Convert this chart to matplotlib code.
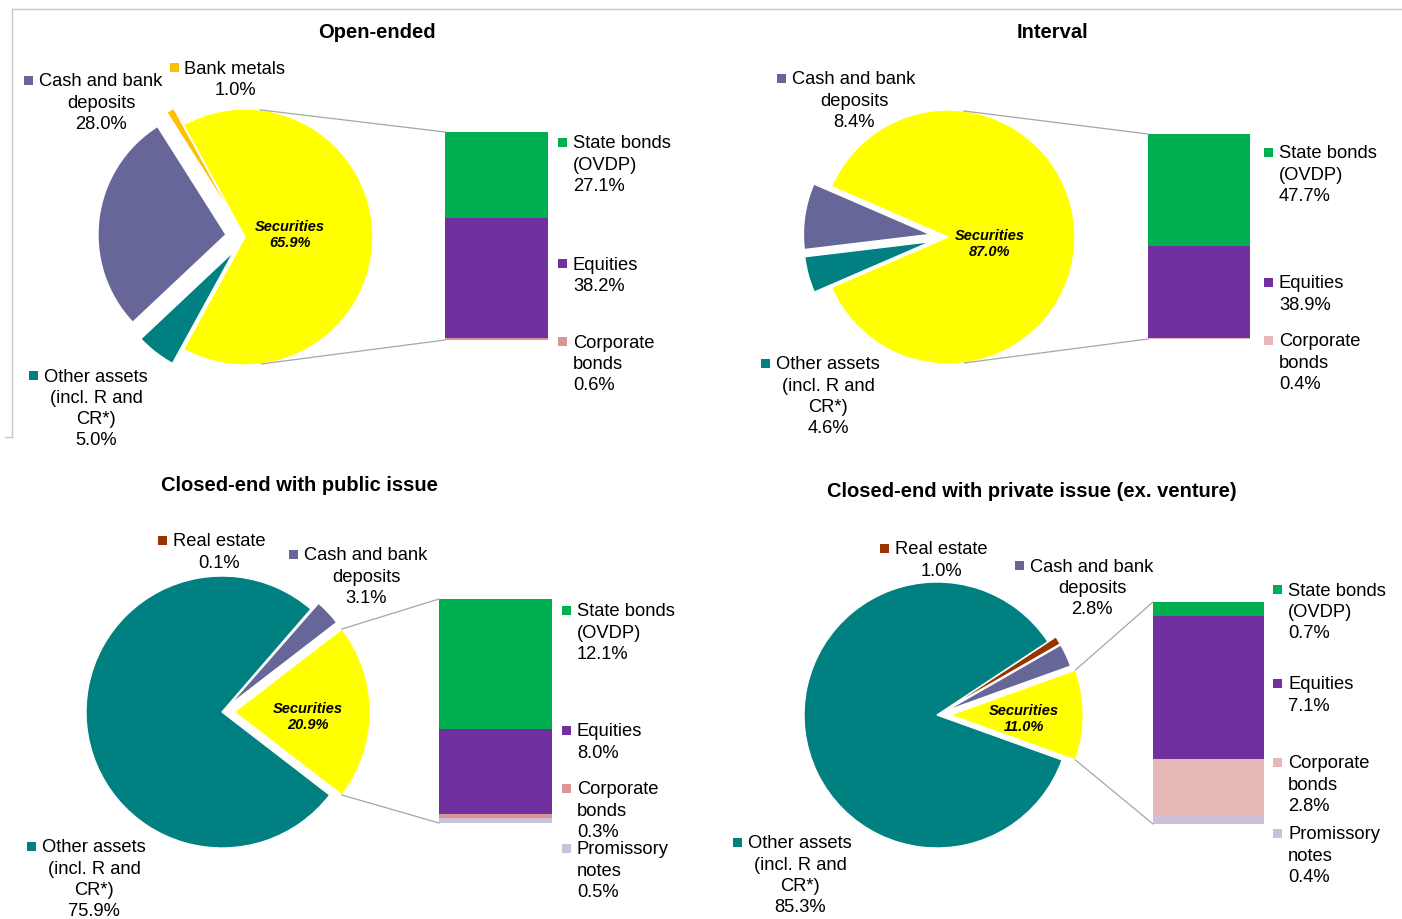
import math
import matplotlib
matplotlib.use('Agg')
import matplotlib.pyplot as plt
from matplotlib.patches import Rectangle
from matplotlib.lines import Line2D

plt.rcParams['font.family'] = ['Liberation Sans', 'DejaVu Sans']

W, H = 1402, 920

# ---- data ----
titles = ['Open-ended', 'Interval', 'Closed-end with public issue',
          'Closed-end with private issue (ex. venture)']

SEC = 'Securities'
CASH = 'Cash and bank\ndeposits'
OTHER = 'Other assets\n(incl. R and\nCR*)'
METALS = 'Bank metals'
REAL = 'Real estate'
STATE = 'State bonds\n(OVDP)'
EQ = 'Equities'
CORP = 'Corporate\nbonds'
PROM = 'Promissory\nnotes'

# pie slices, counter-clockwise starting with the expanded one
open_pie_names = [SEC, METALS, CASH, OTHER]
open_pie_vals = [65.9, 1.0, 28.0, 5.0]
interval_pie_names = [SEC, CASH, OTHER]
interval_pie_vals = [87.0, 8.4, 4.6]
public_pie_names = [SEC, CASH, REAL, OTHER]
public_pie_vals = [20.9, 3.1, 0.1, 75.9]
private_pie_names = [SEC, CASH, REAL, OTHER]
private_pie_vals = [11.0, 2.8, 1.0, 85.3]

# bar parts, top to bottom
open_bar_names = [STATE, EQ, CORP]
open_bar_vals = [27.1, 38.2, 0.6]
interval_bar_names = [STATE, EQ, CORP]
interval_bar_vals = [47.7, 38.9, 0.4]
public_bar_names = [STATE, EQ, CORP, PROM]
public_bar_vals = [12.1, 8.0, 0.3, 0.5]
private_bar_names = [STATE, EQ, CORP, PROM]
private_bar_vals = [0.7, 7.1, 2.8, 0.4]

colors = {SEC: '#FFFF00', METALS: '#FFC000', CASH: '#666699', REAL: '#993300',
          OTHER: '#008080', STATE: '#00B050', EQ: '#7030A0', CORP: '#E6B8B7',
          PROM: '#CCC0DA'}
corp_colors = ['#D99694', '#E6B8B7', '#D99694', '#E6B8B7']

# ---- layout (pixels, y down) ----
pie_center = [(245, 238), (948, 238), (222, 713), (937, 716)]
pie_r = [128, 127, 136, 133]
explode = [[0, .15, .15, .14], [0, .14, .14], [.09, .07, .07, 0], [.1, .07, .07, 0]]
bar_box = [(445, 133, 548, 341), (1148, 135, 1250, 340),
           (439, 600, 552, 824), (1153, 603, 1264, 825)]
title_pos = [(377, 30), (1052, 30), (299, 484), (1032, 490)]
sec_pos = [(290, 234), (990, 243), (308, 716), (1024, 718)]
# label positions for the non-expanded slices (center x, first line y)
pie_lab_pos = [[(235, 67), (101, 80), (96, 375)],
               [(854, 78), (828, 363)],
               [(366, 554), (219, 540), (94, 846)],
               [(1092, 565), (941, 548), (800, 842)]]
bar_lab_x = [573, 1279, 577, 1288]
bar_lab_y = [[142, 263, 341], [152, 282, 340],
             [610, 730, 788, 848], [589, 683, 762, 833]]
LS = 21.3
FS = 13.2
DY = 2  # text baseline nudge

pie_names = [open_pie_names, interval_pie_names, public_pie_names, private_pie_names]
pie_vals = [open_pie_vals, interval_pie_vals, public_pie_vals, private_pie_vals]
bar_names = [open_bar_names, interval_bar_names, public_bar_names, private_bar_names]
bar_vals = [open_bar_vals, interval_bar_vals, public_bar_vals, private_bar_vals]

fig = plt.figure(figsize=(W / 100, H / 100), dpi=100)
renderer = fig.canvas.get_renderer()


def px(x, y):
    return x / W, 1 - y / H


def label(x, y, text, ha, color):
    lines = text.split('\n')
    first = None
    for i, line in enumerate(lines):
        t = fig.text(*px(x, y + DY + i * LS), line, ha=ha, va='center', fontsize=FS,
                     color='black')
        if first is None:
            first = t
    bb = first.get_window_extent(renderer)
    size = 9
    left = bb.x0 - 6 - size
    bottom = (H - y - DY) - size / 2 + 1
    fig.add_artist(Rectangle((left / W, bottom / H), size / W, size / H,
                             transform=fig.transFigure, color=color, lw=0))


def line_px(p1, p2, c='#A6A6A6', lw=0.9):
    fig.add_artist(Line2D([p1[0] / W, p2[0] / W], [1 - p1[1] / H, 1 - p2[1] / H],
                          transform=fig.transFigure, color=c, lw=lw))


# faint frame lines from the source sheet
line_px((12, 10), (1402, 10), '#C8C8C8', 1)
line_px((12, 10), (12, 438), '#C8C8C8', 1)
line_px((5, 438), (12, 438), '#C8C8C8', 1)

for k in range(4):
    names, vals = pie_names[k], pie_vals[k]
    cx, cy = pie_center[k]
    R = pie_r[k]
    total = sum(vals)
    ax = fig.add_axes([(cx - 1.3 * R) / W, 1 - (cy + 1.3 * R) / H, 2.6 * R / W, 2.6 * R / H])
    ax.pie(vals, colors=[colors[n] for n in names], explode=explode[k],
           startangle=-vals[0] / total * 180, counterclock=True, radius=1,
           wedgeprops=dict(edgecolor='white', linewidth=1))
    ax.set_xlim(-1.3, 1.3)
    ax.set_ylim(-1.3, 1.3)
    ax.axis('off')

    # stacked bar
    bx0, by0, bx1, by1 = bar_box[k]
    axb = fig.add_axes([bx0 / W, 1 - by1 / H, (bx1 - bx0) / W, (by1 - by0) / H])
    bnames, bvals = bar_names[k], bar_vals[k]
    bottom = 0
    for n, v in zip(bnames[::-1], bvals[::-1]):
        c = corp_colors[k] if n == CORP else colors[n]
        axb.bar(0, v, width=1, bottom=bottom, color=c, lw=0)
        bottom += v
    axb.set_xlim(-0.5, 0.5)
    axb.set_ylim(0, sum(bvals))
    axb.axis('off')

    # connector lines (tangent to the pie, or from the slice edges)
    sx = cx + explode[k][0] * R
    sy = cy
    half = math.radians(vals[0] / total * 180)
    for corner, sgn in (((bx0, by0), 1), ((bx0, by1), -1)):
        dx = corner[0] - sx
        dy = sy - corner[1]
        d = math.hypot(dx, dy)
        t = math.atan2(dy, dx) + sgn * math.acos(R / d)
        if sgn * t > half:
            t = sgn * half
        line_px((sx + R * math.cos(t), sy - R * math.sin(t)), corner)

    # titles and labels
    tx, ty = title_pos[k]
    fig.text(*px(tx, ty + DY), titles[k], ha='center', va='center',
             fontsize=14.5, fontweight='bold', color='black')
    sxl, syl = sec_pos[k]
    fig.text(*px(sxl, syl + 1), f'{SEC}\n{vals[0]:.1f}%', ha='center', va='center',
             fontsize=10.5, fontweight='bold', fontstyle='italic', linespacing=1.1)
    for (lx, ly), n, v in zip(pie_lab_pos[k], names[1:], vals[1:]):
        label(lx, ly, f'{n}\n{v:.1f}%', 'center', colors[n])
    for ly, n, v in zip(bar_lab_y[k], bnames, bvals):
        c = corp_colors[k] if n == CORP else colors[n]
        label(bar_lab_x[k], ly, f'{n}\n{v:.1f}%', 'left', c)

fig.savefig('out.png', dpi=100, facecolor='white')
